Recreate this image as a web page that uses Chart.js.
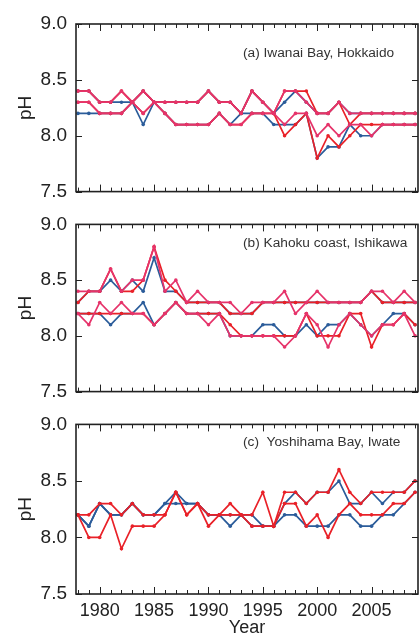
<!DOCTYPE html>
<html>
<head>
<meta charset="utf-8">
<script src="https://cdn.jsdelivr.net/npm/chart.js@4.4.1/dist/chart.umd.min.js"></script>
<style>
html, body { margin: 0; padding: 0; background: #fff; overflow: hidden; width: 419px; height: 644px; }
canvas { position: absolute; left: 0; }
</style>
</head>
<body>
<canvas id="ca" width="422" height="212" style="top:0px"></canvas>
<canvas id="cb" width="422" height="208" style="top:204px"></canvas>
<canvas id="cc" width="422" height="240" style="top:404px"></canvas>
<script>
var years = [1978,1979,1980,1981,1982,1983,1984,1985,1986,1987,1988,1989,1990,1991,1992,1993,
             1994,1995,1996,1997,1998,1999,2000,2001,2002,2003,2004,2005,2006,2007,2008,2009];
var yTicks = [7.5, 8.0, 8.5, 9.0];
var xLabels = [1980, 1985, 1990, 1995, 2000, 2005];

// (a) Iwanai Bay, Hokkaido
var pinkHiA = [8.4,8.4,8.3,8.3,8.4,8.3,8.4,8.3,8.3,8.3,8.3,8.3,8.4,8.3,8.3,8.2,8.4,8.3,8.2,8.4,8.4,8.3,8.2,8.2,8.3,8.2,8.2,8.2,8.2,8.2,8.2,8.2];
var redHiA  = [8.4,8.4,8.3,8.3,8.4,8.3,8.4,8.3,8.3,8.3,8.3,8.3,8.4,8.3,8.3,8.2,8.4,8.3,8.2,8.4,8.4,8.4,8.2,8.2,8.3,8.1,8.2,8.2,8.2,8.2,8.2,8.2];
var blueHiA = [8.4,8.4,8.3,8.3,8.3,8.3,8.4,8.3,8.3,8.3,8.3,8.3,8.4,8.3,8.3,8.2,8.4,8.3,8.2,8.3,8.4,8.3,8.2,8.2,8.3,8.2,8.2,8.2,8.2,8.2,8.2,8.2];
var pinkLoA = [8.3,8.3,8.2,8.2,8.2,8.3,8.2,8.3,8.2,8.1,8.1,8.1,8.1,8.2,8.1,8.1,8.2,8.2,8.2,8.1,8.2,8.2,8.0,8.1,8.0,8.1,8.1,8.0,8.1,8.1,8.1,8.1];
var redLoA  = [8.3,8.3,8.2,8.2,8.2,8.3,8.2,8.3,8.2,8.1,8.1,8.1,8.1,8.2,8.1,8.1,8.2,8.2,8.2,8.0,8.1,8.2,7.8,8.0,7.9,8.0,8.1,8.1,8.1,8.1,8.1,8.1];
var blueLoA = [8.2,8.2,8.2,8.2,8.2,8.3,8.1,8.3,8.2,8.1,8.1,8.1,8.1,8.2,8.1,8.2,8.2,8.2,8.1,8.1,8.1,8.2,7.8,7.9,7.9,8.1,8.0,8.0,8.1,8.1,8.1,8.1];

// (b) Kahoku coast, Ishikawa
var pinkHiB = [8.4,8.4,8.4,8.6,8.4,8.5,8.5,8.8,8.4,8.5,8.3,8.4,8.3,8.3,8.3,8.2,8.3,8.3,8.3,8.4,8.2,8.3,8.4,8.3,8.3,8.3,8.3,8.4,8.4,8.3,8.4,8.3];
var redHiB  = [8.3,8.4,8.4,8.6,8.4,8.4,8.5,8.8,8.5,8.4,8.3,8.3,8.3,8.3,8.2,8.2,8.2,8.3,8.3,8.3,8.3,8.3,8.3,8.3,8.3,8.3,8.3,8.4,8.3,8.3,8.3,8.3];
var blueHiB = [8.3,8.4,8.4,8.5,8.4,8.5,8.4,8.7,8.4,8.4,8.3,8.3,8.3,8.3,8.2,8.2,8.2,8.3,8.3,8.3,8.3,8.3,8.3,8.3,8.3,8.3,8.3,8.4,8.3,8.3,8.3,8.3];
var pinkLoB = [8.2,8.1,8.3,8.2,8.3,8.2,8.2,8.1,8.2,8.3,8.2,8.2,8.1,8.2,8.0,8.0,8.0,8.0,8.0,7.9,8.0,8.2,8.1,7.9,8.1,8.2,8.1,8.0,8.1,8.1,8.2,8.0];
var redLoB  = [8.2,8.2,8.2,8.2,8.2,8.2,8.2,8.1,8.2,8.3,8.2,8.2,8.2,8.2,8.1,8.0,8.0,8.0,8.0,8.0,8.0,8.2,8.0,8.0,8.0,8.2,8.2,7.9,8.1,8.1,8.2,8.1];
var blueLoB = [8.2,8.2,8.2,8.1,8.2,8.2,8.3,8.1,8.2,8.3,8.2,8.2,8.2,8.2,8.0,8.0,8.0,8.1,8.1,8.0,8.0,8.1,8.0,8.1,8.1,8.2,8.1,8.0,8.1,8.2,8.2,8.1];

// (c) Yoshihama Bay, Iwate
var redHiC  = [8.2,8.2,8.3,8.3,8.2,8.3,8.2,8.2,8.2,8.4,8.2,8.3,8.2,8.2,8.3,8.2,8.2,8.4,8.1,8.4,8.4,8.3,8.4,8.4,8.6,8.4,8.3,8.4,8.4,8.4,8.4,8.5];
var redLoC  = [8.2,8.0,8.0,8.2,7.9,8.1,8.1,8.1,8.2,8.4,8.2,8.3,8.1,8.2,8.2,8.2,8.1,8.1,8.1,8.3,8.3,8.1,8.2,8.0,8.2,8.3,8.2,8.2,8.2,8.3,8.3,8.4];
var blueHiC = [8.2,8.1,8.3,8.2,8.2,8.3,8.2,8.2,8.3,8.4,8.3,8.3,8.2,8.2,8.2,8.2,8.2,8.1,8.1,8.3,8.4,8.3,8.4,8.4,8.5,8.3,8.3,8.4,8.3,8.4,8.4,8.5];
var blueLoC = [8.2,8.1,8.3,8.2,8.2,8.3,8.2,8.2,8.3,8.3,8.3,8.3,8.2,8.2,8.1,8.2,8.1,8.1,8.1,8.2,8.2,8.1,8.1,8.1,8.2,8.2,8.1,8.1,8.2,8.2,8.3,8.4];

var blue = '#2b5c9a', red = '#e92128', pink = '#e6336a';
var font = '"Liberation Sans", Arial, sans-serif';

function line(vals, color) {
  return {
    data: years.map(function(y, i) { return {x: y, y: vals[i]}; }),
    borderColor: color,
    backgroundColor: color,
    pointBackgroundColor: color,
    borderWidth: 1.7,
    pointRadius: 1.8,
    pointBorderWidth: 0,
    tension: 0
  };
}

var frame = {
  id: 'frame',
  afterDraw: function(chart, args, opts) {
    var ctx = chart.ctx, a = chart.chartArea;
    var xs = chart.scales.x, ys = chart.scales.y;
    ctx.save();
    ctx.strokeStyle = '#222';
    ctx.lineWidth = 1;
    ctx.beginPath();
    years.forEach(function(yr) {
      var px = Math.round(xs.getPixelForValue(yr)) + 0.5;
      var len = yr % 5 === 0 ? 7 : 4;
      ctx.moveTo(px, a.top); ctx.lineTo(px, a.top + len);
      ctx.moveTo(px, a.bottom); ctx.lineTo(px, a.bottom - len);
    });
    yTicks.forEach(function(v) {
      var py = Math.round(ys.getPixelForValue(v)) + 0.5;
      ctx.moveTo(a.left, py); ctx.lineTo(a.left + 6, py);
      ctx.moveTo(a.right, py); ctx.lineTo(a.right - 6, py);
    });
    ctx.stroke();
    ctx.lineWidth = 1.6;
    ctx.strokeRect(a.left, a.top, a.right - a.left, a.bottom - a.top);
    ctx.font = '13.7px ' + font;
    ctx.fillStyle = '#333';
    ctx.textBaseline = 'middle';
    ctx.fillText(opts.title, 243, a.top + opts.titleDy);
    ctx.restore();
  }
};

function makePanel(id, sets, title, titleDy, padTop, padBottom, showX) {
  new Chart(document.getElementById(id), {
    type: 'line',
    data: { datasets: sets },
    plugins: [frame],
    options: {
      responsive: false,
      animation: false,
      layout: { padding: { left: 0, right: 0, top: padTop, bottom: padBottom } },
      plugins: {
        legend: { display: false },
        tooltip: { enabled: false },
        frame: { title: title, titleDy: titleDy }
      },
      scales: {
        x: {
          type: 'linear', min: 1977.82, max: 2009.27, display: showX,
          grid: { display: false, drawTicks: false }, border: { display: false },
          ticks: {
            stepSize: 5, includeBounds: false, padding: 6, maxRotation: 0, autoSkip: false,
            color: '#222', font: { family: font, size: 18 },
            callback: function(v) { return xLabels.indexOf(v) >= 0 ? String(v) : ''; }
          },
          title: { display: showX, text: 'Year', color: '#222', font: { family: font, size: 18 }, padding: { top: 0, bottom: 5 } },
          afterFit: function(s) { s.height = showX ? 50 : 0; }
        },
        y: {
          min: 7.5, max: 9.0,
          grid: { display: false, drawTicks: false }, border: { display: false },
          ticks: {
            stepSize: 0.5, padding: 9, color: '#222', font: { family: font, size: 19 },
            callback: function(v) { return v.toFixed(1); }
          },
          title: { display: true, text: 'pH', color: '#222', font: { family: font, size: 19 }, padding: { top: 14, bottom: 0 } },
          afterFit: function(s) { s.width = 76; }
        }
      }
    }
  });
}

makePanel('ca', [line(pinkHiA, pink), line(pinkLoA, pink), line(redHiA, red), line(redLoA, red),
                 line(blueHiA, blue), line(blueLoA, blue)],
          '(a) Iwanai Bay, Hokkaido', 29, 24, 15, false);
makePanel('cb', [line(pinkHiB, pink), line(pinkLoB, pink), line(redHiB, red), line(redLoB, red),
                 line(blueHiB, blue), line(blueLoB, blue)],
          '(b) Kahoku coast, Ishikawa', 19, 20, 15, false);
makePanel('cc', [line(redHiC, red), line(redLoC, red), line(blueHiC, blue), line(blueLoC, blue)],
          '(c)  Yoshihama Bay, Iwate', 18, 14, 0, true);
</script>
</body>
</html>
